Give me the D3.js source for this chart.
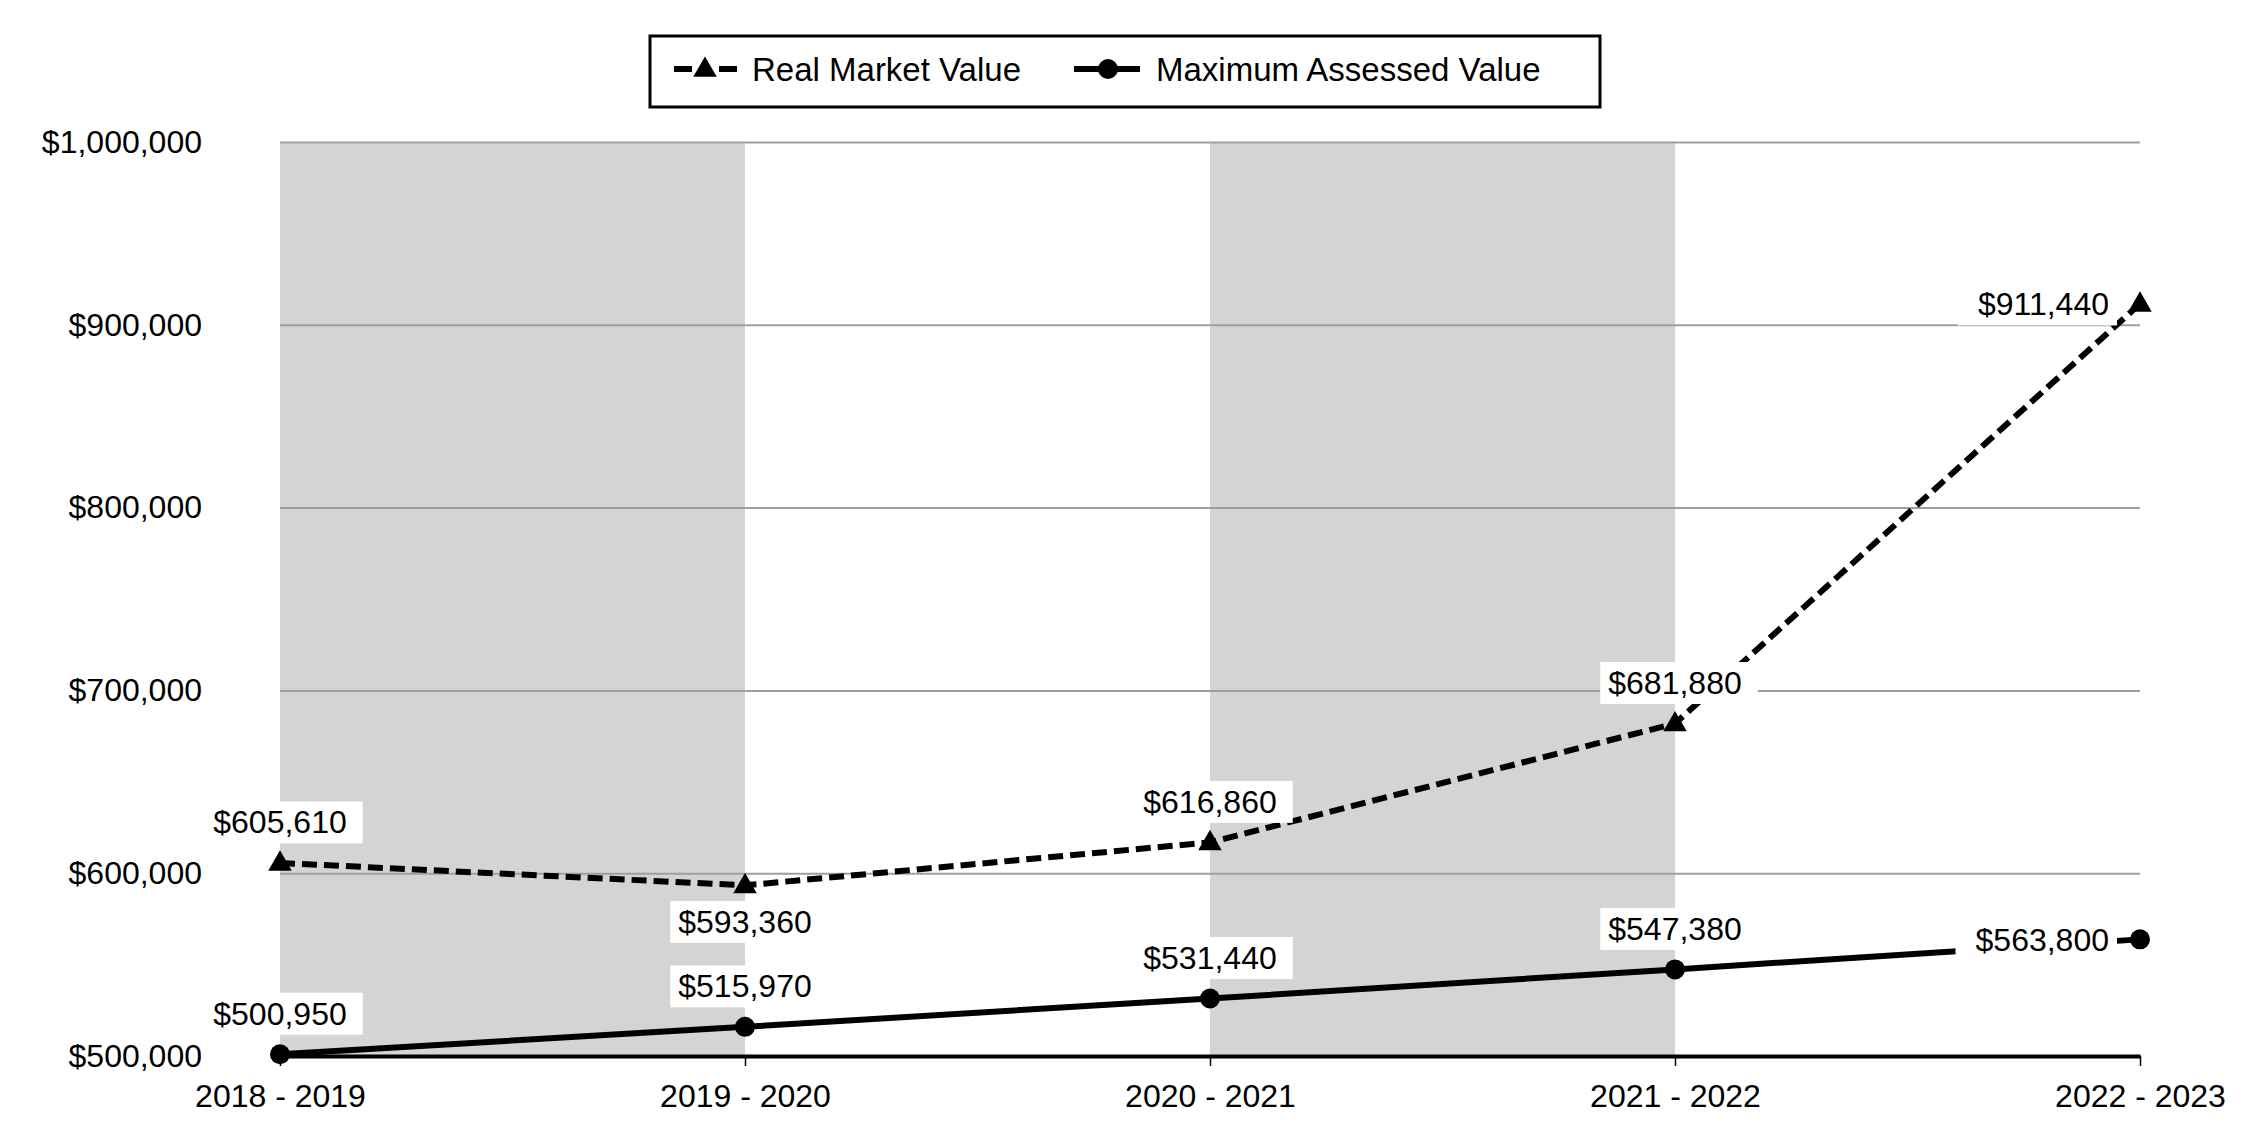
<!DOCTYPE html>
<html>
<head>
<meta charset="utf-8">
<script src="https://cdn.jsdelivr.net/npm/d3@7"></script>
<style>
  body { margin: 0; background: #fff; }
  text { font-family: "Liberation Sans", Arial, sans-serif; fill: #000; }
</style>
</head>
<body>
<div id="chart"></div>
<script>
// values
var categories = ["2018 - 2019", "2019 - 2020", "2020 - 2021", "2021 - 2022", "2022 - 2023"];
var realMarketValue = [605610, 593360, 616860, 681880, 911440];
var maxAssessedValue = [500950, 515970, 531440, 547380, 563800];
var yTicks = [500000, 600000, 700000, 800000, 900000, 1000000];
var seriesNames = ["Real Market Value", "Maximum Assessed Value"];

var width = 2250, height = 1140;
var margin = { top: 142, right: 110, bottom: 84, left: 280 };
var fontSize = 32;

var svg = d3.select("#chart").append("svg")
    .attr("width", width)
    .attr("height", height);

var x = d3.scalePoint()
    .domain(categories)
    .range([margin.left, width - margin.right]);

var y = d3.scaleLinear()
    .domain([500000, 1000000])
    .range([height - margin.bottom, margin.top]);

var money = d3.format("$,");

// alternating grey bands between categories
var bands = d3.range(categories.length - 1).filter(function (i) { return i % 2 === 0; });
svg.append("g").selectAll("rect")
    .data(bands)
    .join("rect")
    .attr("x", function (i) { return x(categories[i]); })
    .attr("width", function (i) { return x(categories[i + 1]) - x(categories[i]); })
    .attr("y", y(1000000))
    .attr("height", y(500000) - y(1000000))
    .attr("fill", "#d4d4d4");

// y axis with gridlines
var yAxis = svg.append("g")
    .attr("transform", "translate(" + margin.left + ",0)")
    .call(d3.axisLeft(y)
        .tickValues(yTicks)
        .tickFormat(money)
        .tickSize(-(width - margin.left - margin.right))
        .tickPadding(78));
yAxis.select(".domain").remove();
yAxis.selectAll(".tick line")
    .attr("stroke", "#9f9f9f")
    .attr("stroke-width", 2);
yAxis.selectAll(".tick").filter(function (d) { return d === 500000; }).select("line").remove();
yAxis.selectAll("text")
    .style("font-size", fontSize + "px")
    .attr("fill", "#000");

// x axis
var xAxis = svg.append("g")
    .attr("transform", "translate(0," + y(500000) + ")")
    .call(d3.axisBottom(x).tickSizeInner(10).tickSizeOuter(0).tickPadding(18));
xAxis.select(".domain")
    .attr("stroke", "#000")
    .attr("stroke-width", 4);
xAxis.selectAll(".tick line")
    .attr("stroke", "#000")
    .attr("stroke-width", 1.5);
xAxis.selectAll("text")
    .style("font-size", fontSize + "px")
    .attr("fill", "#000");

var line = d3.line()
    .x(function (d, i) { return x(categories[i]); })
    .y(function (d) { return y(d); });

var triangle = d3.symbol().type(d3.symbolTriangle).size(240);

// Maximum Assessed Value (solid, circles)
svg.append("path")
    .datum(maxAssessedValue)
    .attr("d", line)
    .attr("fill", "none")
    .attr("stroke", "#000")
    .attr("stroke-width", 6);

svg.append("g").selectAll("circle")
    .data(maxAssessedValue)
    .join("circle")
    .attr("cx", function (d, i) { return x(categories[i]); })
    .attr("cy", function (d) { return y(d); })
    .attr("r", 10)
    .attr("fill", "#000");

// Real Market Value (dashed, triangles)
svg.append("path")
    .datum(realMarketValue)
    .attr("d", line)
    .attr("fill", "none")
    .attr("stroke", "#000")
    .attr("stroke-width", 6)
    .attr("stroke-dasharray", "15,7");

svg.append("g").selectAll("path")
    .data(realMarketValue)
    .join("path")
    .attr("d", triangle)
    .attr("transform", function (d, i) { return "translate(" + x(categories[i]) + "," + (y(d) + 1) + ")"; });

// data labels with white boxes
function placeLabels(values) {
    var g = svg.append("g");
    values.forEach(function (v, i) {
        var px = x(categories[i]), py = y(v);
        var where = "above";
        if (i === values.length - 1) where = "left";
        else if (i > 0 && v < values[i - 1] && v < values[i + 1]) where = "below";

        var lg = g.append("g");
        var box = lg.append("rect").attr("fill", "#fff");
        var t = lg.append("text")
            .style("font-size", fontSize + "px")
            .attr("dy", "0.36em")
            .text(money(v));

        var padL = 8, padR = 16;
        if (where === "left") {
            t.attr("x", px - 31).attr("y", py).attr("text-anchor", "end");
            padL = 20; padR = 8;
        } else {
            var off = where === "above" ? -41 : 36;
            t.attr("x", px).attr("y", py + off).attr("text-anchor", "middle");
        }
        var bb = t.node().getBBox();
        box.attr("x", bb.x - padL).attr("y", bb.y - 3)
            .attr("width", bb.width + padL + padR).attr("height", bb.height + 6);
    });
}
placeLabels(realMarketValue);
placeLabels(maxAssessedValue);

// legend
var legend = svg.append("g");
legend.append("rect")
    .attr("x", 650).attr("y", 36)
    .attr("width", 950).attr("height", 71)
    .attr("fill", "#fff")
    .attr("stroke", "#000")
    .attr("stroke-width", 3);

var ly = 69;
var legendFont = 33;
// dashed sample
legend.append("line").attr("x1", 674).attr("x2", 692).attr("y1", ly).attr("y2", ly)
    .attr("stroke", "#000").attr("stroke-width", 6);
legend.append("line").attr("x1", 719).attr("x2", 737).attr("y1", ly).attr("y2", ly)
    .attr("stroke", "#000").attr("stroke-width", 6);
legend.append("path").attr("d", triangle).attr("transform", "translate(705," + (ly + 1) + ")");
legend.append("text")
    .attr("x", 752).attr("y", ly).attr("dy", "0.36em")
    .style("font-size", legendFont + "px")
    .text(seriesNames[0]);

// solid sample
legend.append("line").attr("x1", 1074).attr("x2", 1140).attr("y1", ly).attr("y2", ly)
    .attr("stroke", "#000").attr("stroke-width", 6);
legend.append("circle").attr("cx", 1108).attr("cy", ly).attr("r", 10).attr("fill", "#000");
legend.append("text")
    .attr("x", 1156).attr("y", ly).attr("dy", "0.36em")
    .style("font-size", legendFont + "px")
    .text(seriesNames[1]);
</script>
</body>
</html>
